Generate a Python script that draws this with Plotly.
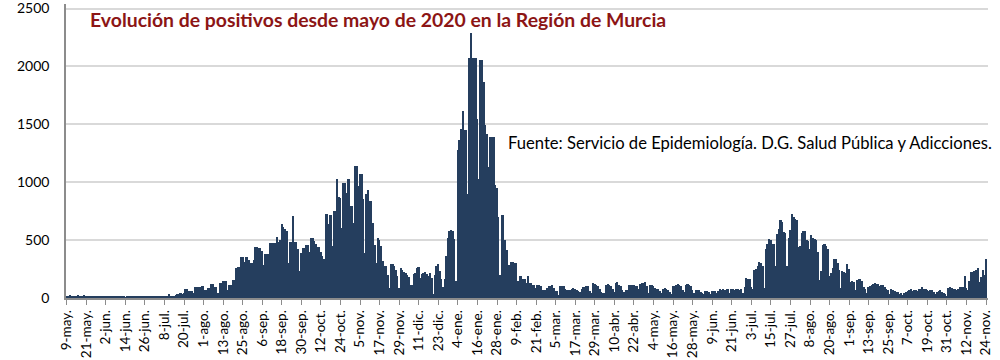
import pandas as pd
import plotly.graph_objects as go

# ---- data (daily positives) ----
fecha_inicio = "2020-05-09"
positivos = [
    18, 20, 22, 17, 15, 19, 21, 23, 20, 16, 18, 22,          # 9-may
    20, 19, 16, 17, 20, 18, 16, 21, 19, 17, 15, 18,          # 21-may
    20, 16, 14, 17, 19, 18, 15, 12, 16, 18, 17, 14,          # 2-jun
    4, 13, 15, 17, 16, 14, 12, 15, 17, 16, 14, 13,           # 14-jun
    15, 16, 14, 12, 15, 17, 18, 16, 14, 12, 10, 14,          # 26-jun
    12, 15, 20, 35, 20, 15, 18, 30, 35, 38, 40, 38,          # 8-jul
    40, 80, 80, 63, 63, 60, 43, 91, 91, 91, 95, 100,         # 20-jul
    100, 71, 71, 90, 90, 120, 120, 94, 94, 40, 128, 128,     # 1-ago
    151, 151, 151, 70, 114, 114, 157, 157, 257, 266, 266, 357,   # 13-ago
    357, 314, 357, 357, 330, 300, 300, 330, 443, 443, 430, 430,  # 25-ago
    408, 286, 380, 380, 380, 477, 477, 477, 477, 523, 480, 500,  # 6-sep
    643, 614, 600, 580, 300, 485, 485, 705, 485, 485, 420, 230,  # 18-sep
    391, 428, 428, 457, 457, 400, 514, 514, 490, 470, 443, 443,  # 30-sep
    400, 363, 340, 723, 723, 643, 714, 448, 750, 750, 1026, 870, # 12-oct
    860, 607, 997, 990, 910, 1032, 795, 795, 650, 1136, 1136, 968,  # 24-oct
    1069, 1069, 852, 390, 900, 933, 838, 838, 650, 462, 300, 520,   # 5-nov
    500, 450, 320, 280, 275, 200, 90, 290, 290, 275, 240, 190,  # 17-nov
    90, 255, 240, 225, 220, 200, 180, 110, 115, 205, 220, 260,  # 29-nov
    270, 173, 211, 215, 222, 205, 188, 215, 173, 35, 202, 275,  # 11-dic
    297, 230, 165, 95, 165, 360, 520, 580, 587, 575, 510, 150,  # 23-dic
    1275, 1361, 1461, 1619, 1447, 1447, 900, 2077, 2292, 2077, 2077, 2077,  # 4-ene
    1547, 1031, 2054, 2054, 1862, 1490, 1420, 1130, 1390, 1390, 1390, 974,  # 16-ene
    950, 702, 200, 716, 716, 501, 415, 286, 286, 315, 315, 300,  # 28-ene
    300, 143, 186, 186, 160, 160, 129, 186, 129, 128, 114, 114,  # 9-feb
    85, 110, 114, 100, 70, 72, 70, 85, 100, 105, 108, 90,       # 21-feb
    64, 60, 26, 100, 105, 100, 80, 70, 72, 70, 80, 85,          # 5-mar
    80, 70, 60, 55, 80, 93, 93, 100, 100, 60, 41, 128,          # 17-mar
    125, 110, 105, 80, 55, 45, 41, 115, 120, 110, 105, 80,      # 29-mar
    55, 130, 134, 110, 100, 70, 55, 65, 70, 110, 114, 114,      # 10-abr
    110, 100, 100, 80, 120, 128, 130, 134, 100, 41, 110, 114,   # 22-abr
    100, 85, 76, 76, 60, 41, 80, 85, 75, 70, 50, 35,            # 4-may
    100, 105, 115, 120, 110, 100, 70, 55, 110, 120, 110, 100,   # 16-may
    70, 47, 65, 70, 65, 55, 45, 35, 60, 64, 55, 35,             # 28-may
    60, 64, 60, 41, 60, 75, 72, 78, 70, 76, 74, 40,             # 9-jun
    74, 75, 72, 76, 74, 70, 74, 40, 92, 172, 165, 163,          # 21-jun
    98, 80, 246, 250, 275, 311, 300, 275, 83, 423, 470, 506,    # 3-jul
    497, 468, 470, 275, 556, 600, 675, 654, 571, 560, 275, 518, # 15-jul
    586, 725, 700, 684, 675, 438, 453, 560, 580, 580, 497, 490, # 27-jul
    423, 542, 518, 512, 500, 394, 157, 231, 460, 468, 453, 423, # 8-ago
    186, 220, 260, 340, 335, 300, 246, 83, 231, 225, 220, 290,  # 20-ago
    250, 142, 145, 140, 68, 157, 160, 163, 150, 98, 80, 40,     # 1-sep
    92, 100, 112, 120, 127, 125, 120, 104, 110, 112, 92, 80,    # 13-sep
    68, 38, 74, 70, 62, 55, 53, 38, 40, 24, 47, 55,             # 25-sep
    62, 70, 74, 62, 68, 65, 60, 74, 80, 92, 80, 74,             # 7-oct
    68, 62, 65, 68, 50, 33, 53, 60, 68, 53, 45, 33,             # 19-oct
    18, 90, 92, 83, 80, 74, 68, 80, 98, 95, 92, 186,            # 31-oct
    83, 68, 150, 222, 222, 230, 246, 260, 142, 180, 240, 200,   # 12-nov
    340,                                                        # 24-nov
]
etiquetas_x = [
    "9-may.", "21-may.", "2-jun.", "14-jun.", "26-jun.", "8-jul.", "20-jul.",
    "1-ago.", "13-ago.", "25-ago.", "6-sep.", "18-sep.", "30-sep.", "12-oct.",
    "24-oct.", "5-nov.", "17-nov.", "29-nov.", "11-dic.", "23-dic.", "4-ene.",
    "16-ene.", "28-ene.", "9-feb.", "21-feb.", "5-mar.", "17-mar.", "29-mar.",
    "10-abr.", "22-abr.", "4-may.", "16-may.", "28-may.", "9-jun.", "21-jun.",
    "3-jul.", "15-jul.", "27-jul.", "8-ago.", "20-ago.", "1-sep.", "13-sep.",
    "25-sep.", "7-oct.", "19-oct.", "31-oct.", "12-nov.", "24-nov.",
]
valores_y = [0, 500, 1000, 1500, 2000, 2500]
paso_ticks = 12
titulo = "Evolución de positivos desde mayo de 2020 en la Región de Murcia"
fuente = "Fuente: Servicio de Epidemiología. D.G. Salud Pública y Adicciones."

# ---- figure ----
fechas = pd.date_range(fecha_inicio, periods=len(positivos), freq="D")
tickvals = [d.strftime("%Y-%m-%d") for d in fechas[::paso_ticks]]

inicio = pd.Timestamp(fecha_inicio)
x0 = (inicio - pd.Timedelta(hours=10)).strftime("%Y-%m-%d %H:%M:%S")
x1 = (fechas[-1] + pd.Timedelta(hours=28)).strftime("%Y-%m-%d %H:%M:%S")

fig = go.Figure(
    go.Bar(
        x=[d.strftime("%Y-%m-%d") for d in fechas],
        y=positivos,
        marker=dict(color="#253e5e", line=dict(width=0)),
        hoverinfo="x+y",
    )
)

# plot area: 2500 gridline at ~y=8.5 px, zero at y=298 px
fig.update_layout(
    width=1000,
    height=360,
    margin=dict(l=66, r=12, t=4, b=62),
    paper_bgcolor="white",
    plot_bgcolor="white",
    bargap=0,
    showlegend=False,
    font=dict(family="Lato, Open Sans, sans-serif", color="#000000"),
    annotations=[
        dict(
            text="<b>" + titulo + "</b>",
            xref="paper", yref="paper",
            x=0.0235, y=(298 - 20) / 294, xanchor="left", yanchor="middle",
            showarrow=False,
            font=dict(family="Lato, sans-serif", size=19.4, color="#8c1515"),
        ),
        dict(
            text=fuente,
            xref="paper", yref="paper",
            x=0.477, y=(298 - 143) / 294, xanchor="left", yanchor="middle",
            showarrow=False,
            font=dict(family="Lato, sans-serif", size=16.6, color="#000000"),
        ),
    ],
)

fig.update_xaxes(
    type="date",
    range=[x0, x1],
    tickmode="array",
    tickvals=tickvals,
    ticktext=etiquetas_x,
    tickangle=-90,
    tickfont=dict(family="Lato, sans-serif", size=13.5, color="#000000"),
    ticks="outside",
    ticklen=5,
    tickcolor="#8c8c8c",
    showline=True,
    linecolor="#8c8c8c",
    linewidth=1.5,
    showgrid=False,
    automargin=False,
    ticklabeloverflow="allow",
)

fig.update_yaxes(
    range=[0, 2539],
    tickmode="array",
    tickvals=valores_y,
    ticktext=[str(v) for v in valores_y],
    showgrid=True,
    gridcolor="#d9d9d9",
    gridwidth=2,
    zeroline=False,
    showline=True,
    linecolor="#8c8c8c",
    linewidth=1.5,
    ticks="",
    ticklabelstandoff=12,
    ticklabeloverflow="allow",
    tickfont=dict(family="Lato, sans-serif", size=14, color="#000000"),
    automargin=False,
)

fig.write_html(
    "out.html",
    config={"displayModeBar": False},
    post_script="document.body.style.margin='0px';document.body.style.overflow='hidden';",
)
